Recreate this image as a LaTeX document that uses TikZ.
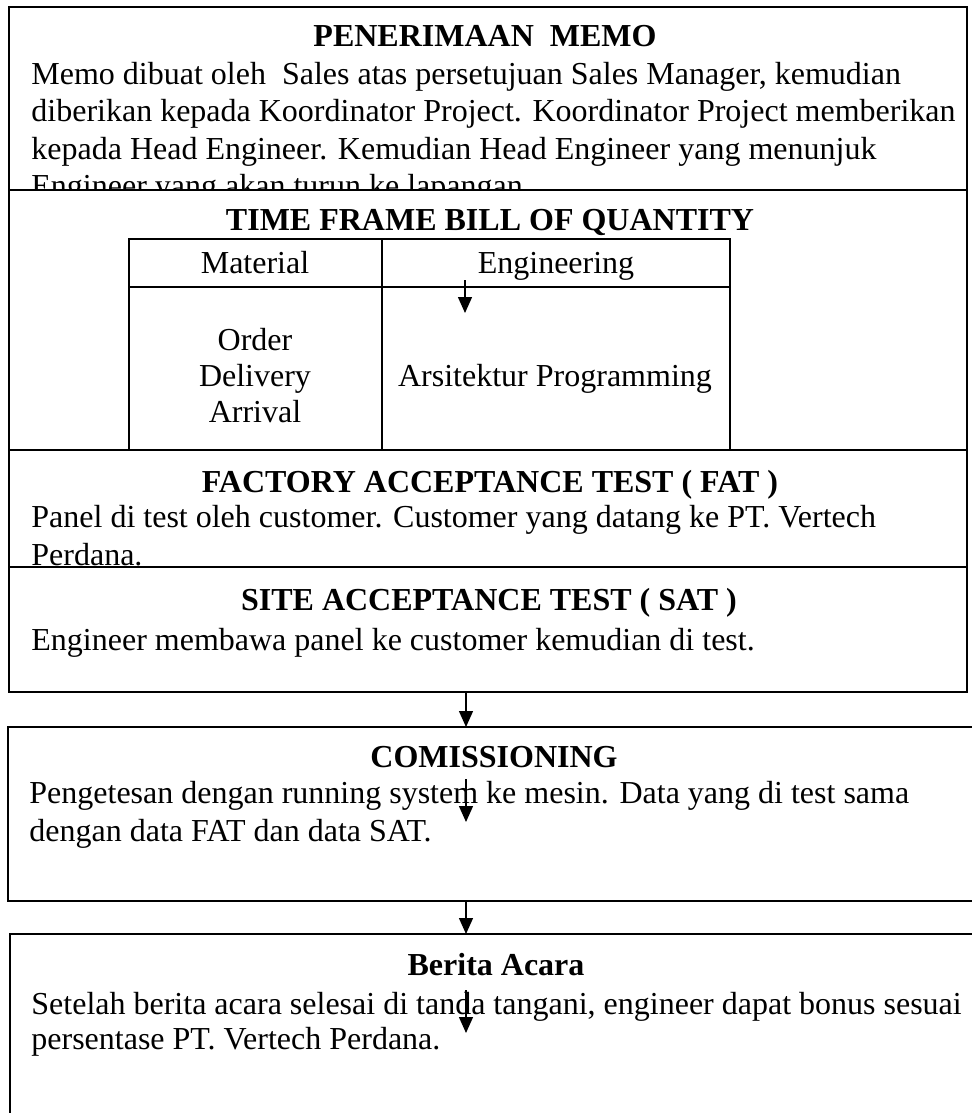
\documentclass[tikz,border=0pt]{standalone}
\usepackage{fontspec}
\setmainfont{Liberation Serif}
\usetikzlibrary{arrows.meta}
\begin{document}
\begin{tikzpicture}[x=0.5pt,y=-0.5pt,
  box/.style={draw=black, line width=1pt, rectangle, inner sep=0pt, outer sep=0pt},
  wbox/.style={box, fill=white},
  body/.style={anchor=base west, inner sep=0pt, font=\fontsize{16pt}{18pt}\selectfont},
  ctext/.style={anchor=base, inner sep=0pt, font=\fontsize{16pt}{18pt}\selectfont},
  ttl/.style={anchor=base, inner sep=0pt, font=\fontsize{16pt}{18pt}\selectfont\bfseries},
  arr/.style={line width=0.7pt, -{Triangle[length=8pt,width=7pt]}}]
\useasboundingbox (0,0) rectangle (972,1113);
\clip (0,0) rectangle (972,1113);
% ---- Box 1: Penerimaan memo
\node[box, minimum width=479pt, minimum height=91.5pt] (memo) at (488,98.5) {};
\node[ttl] (t1) at (485,47) {PENERIMAAN\ \ MEMO};
\node[body] (m1) at (31,85) {Memo dibuat oleh\ \ Sales atas persetujuan Sales Manager, kemudian};
\node[body] (m2) at (31,122) {diberikan kepada Koordinator Project. Koordinator Project memberikan};
\node[body] (m3) at (31,159) {kepada Head Engineer. Kemudian Head Engineer yang menunjuk};
\node[body] (m4) at (31,196) {Engineer yang akan turun ke lapangan};
% ---- Box 2: Time frame
\node[wbox, minimum width=479pt, minimum height=130pt] (tf) at (488,320) {};
\node[ttl] (t2) at (490,230) {TIME FRAME BILL OF QUANTITY};
\node[box, minimum width=126.5pt, minimum height=24pt] (hmat) at (255.5,263) {};
\node[box, minimum width=174pt, minimum height=24pt] (heng) at (556,263) {};
\node[box, minimum width=126.5pt, minimum height=81.5pt] (bmat) at (255.5,368.5) {};
\node[box, minimum width=174pt, minimum height=81.5pt] (beng) at (556,368.5) {};
\node[ctext] (tmat) at (255,273) {Material};
\node[ctext] (teng) at (556,273) {Engineering};
\node[ctext] (o1) at (255,350) {Order};
\node[ctext] (o2) at (255,386) {Delivery};
\node[ctext] (o3) at (255,422) {Arrival};
\node[ctext] (ap) at (555,386) {Arsitektur Programming};
\coordinate (ta1) at (465,280);
\coordinate (ta2) at (465,313);
\draw[arr] (ta1) -- (ta2);
% ---- Box 3: FAT
\node[box, minimum width=479pt, minimum height=58.5pt] (fat) at (488,508.5) {};
\node[ttl] (t3) at (490,492) {FACTORY ACCEPTANCE TEST ( FAT )};
\node[body] (f1) at (31,527) {Panel di test oleh customer. Customer yang datang ke PT. Vertech};
\node[body] (f2) at (31,565) {Perdana.};
% ---- Box 4: SAT
\node[box, minimum width=479pt, minimum height=62.5pt] (sat) at (488,629.5) {};
\node[ttl] (t4) at (489,610) {SITE ACCEPTANCE TEST ( SAT )};
\node[body] (s1) at (31,650) {Engineer membawa panel ke customer kemudian di test.};
% ---- Box 5: Commissioning
\node[box, minimum width=486pt, minimum height=87pt] (com) at (494,814) {};
\node[ttl] (t5) at (494,767) {COMISSIONING};
\node[body] (c1) at (29,803) {Pengetesan dengan running system ke mesin. Data yang di test sama};
\node[body] (c2) at (29,841) {dengan data FAT dan data SAT.};
\coordinate (ca1) at (466,779);
\coordinate (ca2) at (466,822);
\draw[arr] (ca1) -- (ca2);
% ---- Box 6: Berita acara
\node[box, minimum width=486pt, minimum height=103pt] (ba) at (496,1037) {};
\node[ttl] (t6) at (496,975) {Berita Acara};
\node[body] (b1) at (31,1014) {Setelah berita acara selesai di tanda tangani, engineer dapat bonus sesuai};
\node[body] (b2) at (31,1049) {persentase PT. Vertech Perdana.};
\coordinate (ba1) at (466,990);
\coordinate (ba2) at (466,1033);
\draw[arr] (ba1) -- (ba2);
% ---- Connectors between boxes
\coordinate (ax) at (466,0);
\draw[arr] (sat.south -| ax) -- (com.north -| ax);
\draw[arr] (com.south -| ax) -- (ba.north -| ax);
\end{tikzpicture}
\end{document}
